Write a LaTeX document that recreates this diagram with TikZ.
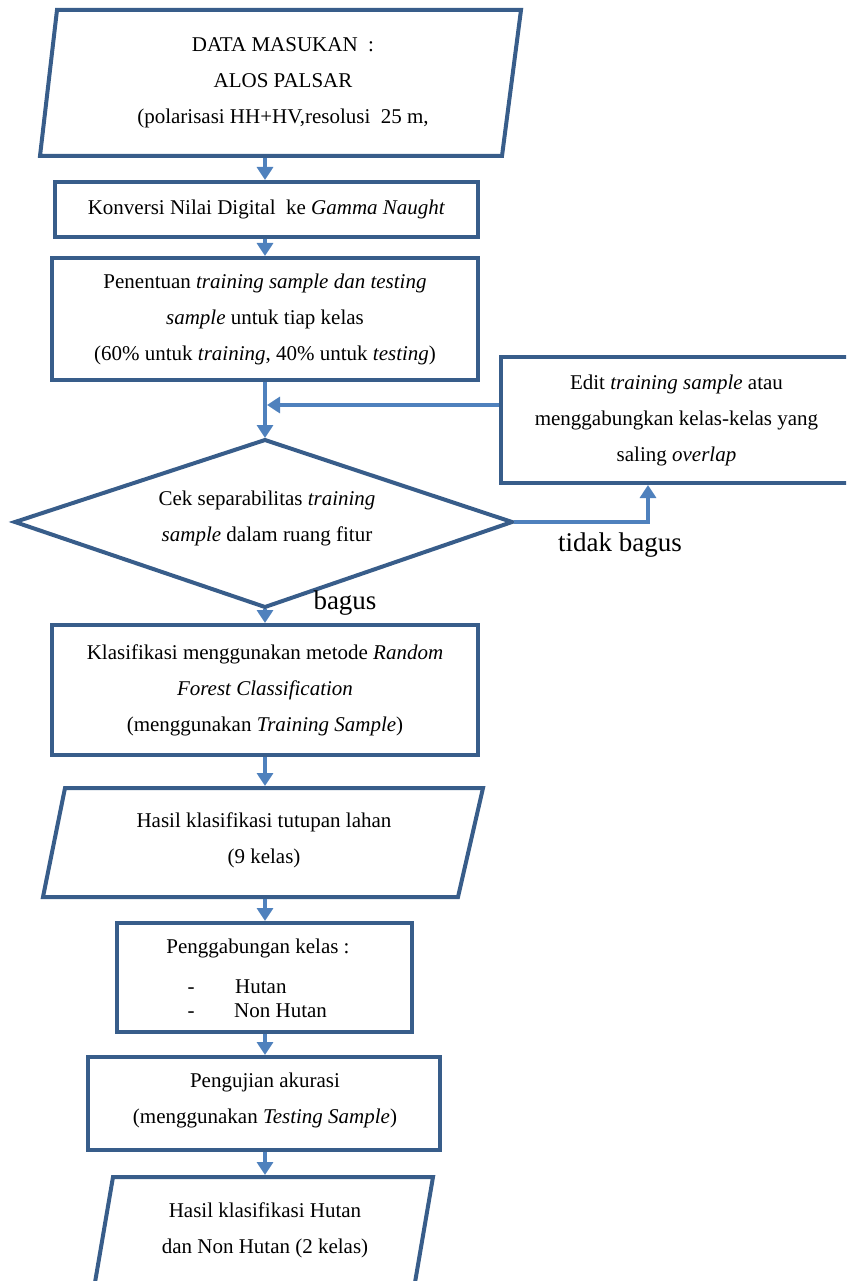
\documentclass[tikz,border=0pt]{standalone}
\usepackage{fontspec}
\setmainfont{Liberation Serif}
\usetikzlibrary{arrows.meta}
\definecolor{boxc}{HTML}{385D8A}
\definecolor{arrc}{HTML}{4F81BD}
\newcommand\txtfont{\fontsize{21}{36}\selectfont}
\tikzset{
  shp/.style={draw=boxc, line width=4pt, line join=miter},
  box/.style={shp, rectangle, inner sep=0pt, outer sep=0pt, align=center, font=\txtfont},
  txt/.style={inner sep=0pt, align=center, font=\txtfont},
  arr/.style={draw=arrc, line width=4pt, shorten <=2pt, shorten >=2pt, -{Triangle[width=16pt,length=13pt]}},
  lbl/.style={inner sep=0pt, font=\fontsize{27}{30}\selectfont},
}
\begin{document}
\begin{tikzpicture}[x=1pt,y=-1pt]
\useasboundingbox (0,0) rectangle (846,1281);
\begin{scope}
\clip (0,0) rectangle (846,1281);
\coordinate (ax) at (265,0);
% input parallelogram
\draw[shp] (57,10) -- (521,10) -- (502,156) -- (40,156) -- cycle;
\node[txt] (p1) at (283,83) {DATA MASUKAN~~:\\ALOS PALSAR\\(polarisasi HH+HV,resolusi~~25 m,};
\coordinate (p1s) at (265,156);
% boxes
\node[box, minimum width=423pt, minimum height=55pt] (b2) at (266.5,209.5) {Konversi Nilai Digital~ ke \textit{Gamma Naught}};
\node[box, minimum width=426pt, minimum height=122pt] (b3) at (265,319) {Penentuan \textit{training sample dan testing}\\\textit{sample} untuk tiap kelas\\(60\% untuk \textit{training}, 40\% untuk \textit{testing})};
\node[box, minimum width=351pt, minimum height=126pt] (b4) at (676.5,420) {Edit \textit{training sample} atau\\menggabungkan kelas-kelas yang\\saling \textit{overlap}};
% decision
\draw[shp] (265,440) -- (512,522) -- (265,607) -- (15,522) -- cycle;
\node[txt] (dt) at (267,518) {Cek separabilitas \textit{training}\\\textit{sample} dalam ruang fitur};
\coordinate (dn) at (265,440);
\coordinate (ds) at (265,607);
\coordinate (de) at (512,522);
\coordinate (up) at (648,0);
\coordinate (fbe) at (265,405);
\node[lbl] (tb) at (620,545) {tidak bagus};
\node[lbl] (bg) at (345,603) {bagus};
\node[box, minimum width=426pt, minimum height=130pt] (b5) at (265,690) {Klasifikasi menggunakan metode \textit{Random}\\\textit{Forest Classification}\\(menggunakan \textit{Training Sample})};
% result parallelogram
\draw[shp] (65,788) -- (483,788) -- (458,897) -- (43,897) -- cycle;
\node[txt] (p2) at (264,840) {Hasil klasifikasi tutupan lahan\\(9 kelas)};
\coordinate (p2n) at (265,788);
\coordinate (p2s) at (265,897);
% merge classes
\node[box, minimum width=295pt, minimum height=109pt] (b6) at (264.5,977.5) {};
\node[txt] (b6t) at (258,948) {Penggabungan kelas :};
\node[txt, anchor=base] (d1) at (191,993) {-};
\node[txt, anchor=base] (d2) at (191,1017) {-};
\node[txt, anchor=base west] (h1) at (235,993) {Hutan};
\node[txt, anchor=base west] (h2) at (234,1017) {Non Hutan};
\node[box, minimum width=352pt, minimum height=93pt] (b7) at (264,1103.5) {};
\node[txt] (b7t) at (265,1100) {Pengujian akurasi\\(menggunakan \textit{Testing Sample})};
% final parallelogram
\draw[shp] (113,1177) -- (433,1177) -- (412,1300) -- (92,1300) -- cycle;
\node[txt] (p3) at (265,1230) {Hasil klasifikasi Hutan\\dan Non Hutan (2 kelas)};
\coordinate (p3n) at (265,1177);
% connectors
\draw[arr] (p1s) -- (ax |- b2.north);
\draw[arr] (ax |- b2.south) -- (ax |- b3.north);
\draw[arr] (ax |- b3.south) -- (ax |- dn);
\draw[arr] (b4.west |- fbe) -- (fbe);
\draw[arr] (de) -| (up |- b4.south);
\draw[arr] (ax |- ds) -- (ax |- b5.north);
\draw[arr] (ax |- b5.south) -- (p2n);
\draw[arr] (p2s) -- (ax |- b6.north);
\draw[arr] (ax |- b6.south) -- (ax |- b7.north);
\draw[arr] (ax |- b7.south) -- (p3n);
\end{scope}
\end{tikzpicture}
\end{document}
